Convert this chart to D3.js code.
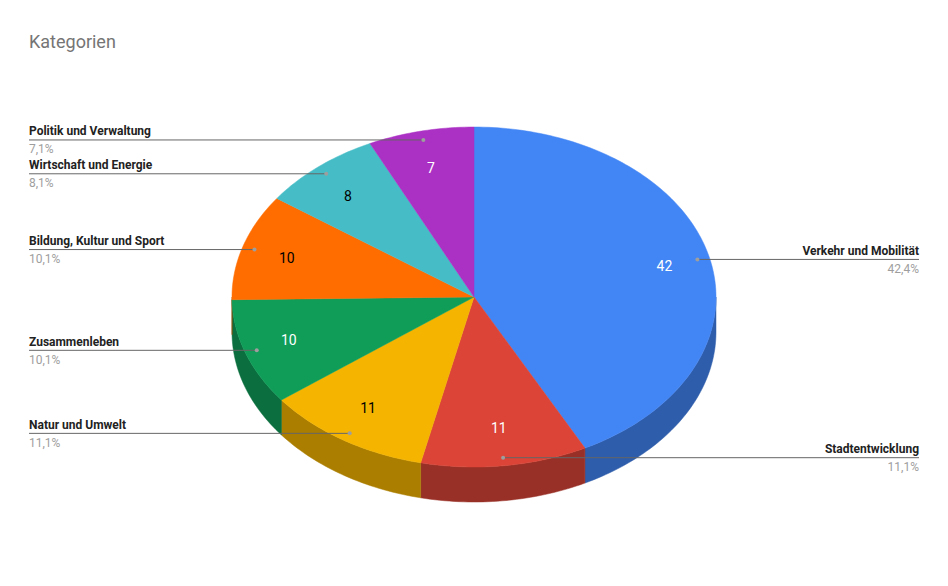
<!DOCTYPE html>
<html>
<head>
<meta charset="utf-8">
<script src="https://cdn.jsdelivr.net/npm/d3@7"></script>
<style>
  body { margin: 0; background: #fff; }
  svg { display: block; font-family: Roboto, "Noto Sans", sans-serif; }
</style>
</head>
<body>
<div id="chart"></div>
<script>
// Daten
const categories = [
    'Verkehr und Mobilität',
    'Stadtentwicklung',
    'Natur und Umwelt',
    'Zusammenleben',
    'Bildung, Kultur und Sport',
    'Wirtschaft und Energie',
    'Politik und Verwaltung'
];
const values = [42, 11, 11, 10, 10, 8, 7];
const colors = ['#4285f4', '#db4437', '#f4b400', '#0f9d58', '#ff6d00', '#46bdc6', '#ab30c4'];

const width = 948;
const height = 586;
const cx = 474, cy = 297, rx = 242, ry = 170, depth = 35;
const leftX = 29, rightX = 919;

const svg = d3.select('#chart')
    .append('svg')
    .attr('width', width)
    .attr('height', height);

svg.append('text')
    .attr('x', 29)
    .attr('y', 48)
    .attr('font-size', '18px')
    .attr('fill', '#757575')
    .text('Kategorien');

const data = categories.map((name, i) => ({ name, value: values[i], color: colors[i] }));
const total = d3.sum(values);

const pie = d3.pie()
    .sort(null)
    .value((d) => d.value);
const arcs = pie(data);

// Winkel im Uhrzeigersinn ab oben
function pt(a, fx = 1, dy = 0, fy = fx) {
    return [cx + rx * fx * Math.sin(a), cy - ry * fy * Math.cos(a) + dy];
}

function sample(a0, a1, dy = 0) {
    const n = Math.max(2, Math.ceil((a1 - a0) / 0.02));
    return d3.range(n + 1).map((k) => pt(a0 + (a1 - a0) * k / n, 1, dy));
}

const line = d3.line();

// Seitenflächen (nur vorderer Halbkreis sichtbar)
const sides = svg.append('g');
arcs.forEach((a) => {
    const s = Math.max(a.startAngle, Math.PI / 2);
    const e = Math.min(a.endAngle, Math.PI * 1.5);
    if (e <= s) return;
    const top = sample(s, e);
    const bottom = sample(s, e, depth).reverse();
    const dark = d3.color(a.data.color).darker(1);
    sides.append('path')
        .attr('d', line(top.concat(bottom)) + 'Z')
        .attr('fill', dark)
        .attr('stroke', dark)
        .attr('stroke-width', 0.5);
});

// Deckflächen
const tops = svg.append('g');
arcs.forEach((a) => {
    const pts = [[cx, cy]].concat(sample(a.startAngle, a.endAngle));
    tops.append('path')
        .attr('d', line(pts) + 'Z')
        .attr('fill', a.data.color)
        .attr('stroke', a.data.color)
        .attr('stroke-width', 0.5);
});

// Werte in den Segmenten
arcs.forEach((a) => {
    const mid = (a.startAngle + a.endAngle) / 2;
    const [x, y] = pt(mid, 0.81, 0, 0.775);
    svg.append('text')
        .attr('x', x)
        .attr('y', y)
        .attr('dy', '0.35em')
        .attr('text-anchor', 'middle')
        .attr('font-size', '14px')
        .attr('fill', d3.lab(a.data.color).l > 60 ? '#000' : '#fff')
        .text(a.data.value);
});

// Beschriftungen mit Führungslinien
const fmt = (v) => (v / total * 100).toFixed(1).replace('.', ',') + '%';
arcs.forEach((a) => {
    const mid = (a.startAngle + a.endAngle) / 2;
    const [x, y] = pt(mid, 0.95);
    const right = mid < Math.PI;
    const tx = right ? rightX : leftX;
    const anchor = right ? 'end' : 'start';

    svg.append('line')
        .attr('x1', x)
        .attr('x2', tx)
        .attr('y1', y + 0.5)
        .attr('y2', y + 0.5)
        .attr('stroke', '#666')
        .attr('stroke-width', 1);

    svg.append('circle')
        .attr('cx', x)
        .attr('cy', y + 0.5)
        .attr('r', 2)
        .attr('fill', '#9e9e9e');

    svg.append('text')
        .attr('x', tx)
        .attr('y', y - 4)
        .attr('text-anchor', anchor)
        .attr('font-size', '12px')
        .attr('font-weight', 'bold')
        .attr('fill', '#222')
        .text(a.data.name);

    svg.append('text')
        .attr('x', tx)
        .attr('y', y + 14)
        .attr('text-anchor', anchor)
        .attr('font-size', '12px')
        .attr('fill', '#9e9e9e')
        .text(fmt(a.data.value));
});
</script>
</body>
</html>
